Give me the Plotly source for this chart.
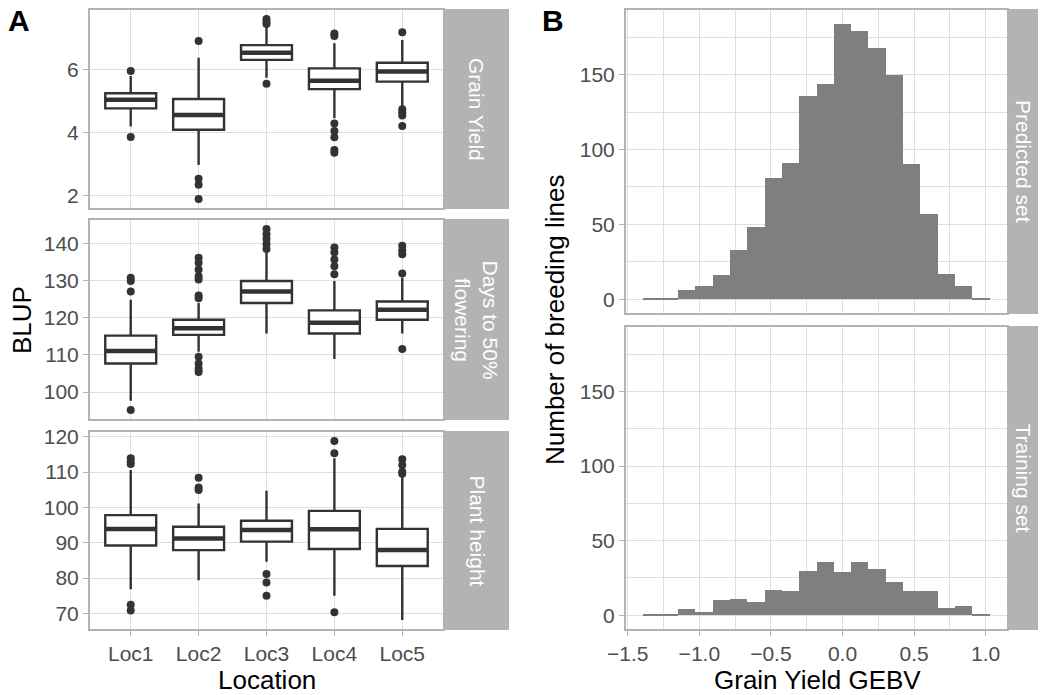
import plotly.graph_objects as go

# ---------------- data: panel A (BLUP box-plot statistics) ----------------
locations = ["Loc1", "Loc2", "Loc3", "Loc4", "Loc5"]

gy_q1 = [4.78, 4.10, 6.32, 5.39, 5.63]
gy_median = [5.05, 4.57, 6.55, 5.66, 5.95]
gy_q3 = [5.26, 5.08, 6.79, 6.05, 6.23]
gy_lower = [4.20, 2.98, 5.75, 4.47, 4.84]
gy_upper = [5.81, 6.39, 7.37, 6.85, 6.95]
gy_outliers = [
    [5.97, 3.87],
    [6.92, 2.54, 2.35, 1.90],
    [7.62, 7.53, 7.46, 5.56],
    [7.16, 7.08, 4.30, 4.06, 3.86, 3.46, 3.37],
    [7.20, 4.75, 4.65, 4.55, 4.22],
]

df_q1 = [107.7, 115.4, 124.0, 115.8, 119.5]
df_median = [111.1, 117.2, 127.1, 118.7, 122.2]
df_q3 = [115.2, 119.5, 129.9, 122.0, 124.4]
df_lower = [97.7, 110.9, 115.8, 108.9, 115.8]
df_upper = [124.9, 124.0, 137.6, 129.9, 130.8]
df_outliers = [
    [130.8, 129.9, 127.1, 95.2],
    [126.0, 125.3, 130.3, 131.2, 133.0, 134.8, 136.2, 109.5, 107.7, 106.3, 105.4],
    [143.9, 142.5, 141.2, 139.8, 138.5],
    [138.9, 137.6, 135.7, 133.9, 131.7],
    [131.9, 139.4, 138.1, 137.1, 111.6],
]

ph_q1 = [89.2, 87.9, 90.3, 88.2, 83.4]
ph_median = [93.9, 91.2, 93.6, 93.8, 87.9]
ph_q3 = [97.8, 94.5, 96.2, 99.0, 93.9]
ph_lower = [76.8, 79.4, 84.6, 75.0, 68.1]
ph_upper = [110.6, 101.1, 104.7, 113.9, 108.7]
ph_outliers = [
    [113.9, 113.0, 112.3, 72.4, 70.8],
    [108.4, 105.6, 104.9],
    [81.1, 78.7, 75.0],
    [118.8, 115.3, 70.3],
    [113.6, 112.0, 110.1, 109.5],
]

traits = ["Grain Yield", "Days to 50%<br>flowering", "Plant height"]

# ---------------- data: panel B (histogram of GEBV) ----------------
gebv_bin_centres = [-1.331, -1.210, -1.089, -0.968, -0.847, -0.726, -0.605, -0.484,
                    -0.363, -0.242, -0.121, 0.000, 0.121, 0.242, 0.363, 0.484,
                    0.605, 0.726, 0.847, 0.968]
gebv_bin_width = 0.121
predicted_counts = [1, 1, 6, 9, 16, 33, 48, 81, 91, 136, 144, 184, 179, 168, 150, 90, 57, 17, 9, 1]
training_counts = [1, 1, 4, 2, 10, 11, 9, 17, 16, 30, 36, 29, 36, 31, 22, 16, 16, 5, 6, 1]
sets = ["Predicted set", "Training set"]

x_ticks_b = [-1.5, -1.0, -0.5, 0.0, 0.5, 1.0]
x_ticktext_b = ["\u22121.5", "\u22121.0", "\u22120.5", "0.0", "0.5", "1.0"]
y_ticks_b = [0, 50, 100, 150]

# ---------------- style ----------------
W, H = 1048, 695
FONT = "Liberation Sans, Arial, Helvetica, sans-serif"
BOX_LINE = "#333333"
FRAME = "#b3b3b3"
GRID = "#dedede"
TICKTXT = "#4d4d4d"
BAR = "#7f7f7f"
BOX_W = 0.75


def px_x(p):
    return p / W


def px_y(p):
    return 1 - p / H


def expand(lo, hi, frac=0.05):
    s = hi - lo
    return [lo - frac * s, hi + frac * s]


fig = go.Figure()

# panel A geometry (pixels)
ax_left, ax_right = 90, 443
a_rows = [(10, 208), (220, 419), (432, 629)]
bx_left, bx_right = 626, 1007
b_rows = [(10, 313), (327, 629)]

a_data = [
    (gy_q1, gy_median, gy_q3, gy_lower, gy_upper, gy_outliers, [2, 4, 6]),
    (df_q1, df_median, df_q3, df_lower, df_upper, df_outliers, [100, 110, 120, 130, 140]),
    (ph_q1, ph_median, ph_q3, ph_lower, ph_upper, ph_outliers, [70, 80, 90, 100, 110, 120]),
]

axis_common = dict(
    automargin=False,
    showline=True, mirror=True, linecolor=FRAME, linewidth=2,
    showgrid=True, gridcolor=GRID, gridwidth=1, zeroline=False,
    ticks="outside", ticklen=5, tickcolor=FRAME, tickwidth=1,
    tickfont=dict(size=21, color=TICKTXT, family=FONT),
)

layout_axes = {}
for k, (q1, med, q3, lo, hi, outs, yt) in enumerate(a_data):
    n = k + 1
    xa = "x" if n == 1 else f"x{n}"
    ya = "y" if n == 1 else f"y{n}"
    xs = list(range(len(locations)))
    fig.add_trace(go.Box(
        x=xs, q1=q1, median=med, q3=q3, lowerfence=lo, upperfence=hi,
        width=BOX_W, whiskerwidth=0, boxpoints=False,
        fillcolor="white", line=dict(color=BOX_LINE, width=2.4),
        xaxis=xa, yaxis=ya, showlegend=False, hoverinfo="skip",
    ))
    mx, my = [], []
    for i, m in enumerate(med):
        mx += [i - BOX_W / 2, i + BOX_W / 2, None]
        my += [m, m, None]
    fig.add_trace(go.Scatter(x=mx, y=my, mode="lines", line=dict(color=BOX_LINE, width=4.5),
                             xaxis=xa, yaxis=ya, showlegend=False, hoverinfo="skip"))
    ox, oy = [], []
    for i, vals in enumerate(outs):
        ox += [i] * len(vals)
        oy += vals
    fig.add_trace(go.Scatter(x=ox, y=oy, mode="markers",
                             marker=dict(color=BOX_LINE, size=8),
                             xaxis=xa, yaxis=ya, showlegend=False, hoverinfo="skip"))
    all_vals = lo + hi + oy
    top, bot = a_rows[k]
    last = (k == len(a_data) - 1)
    layout_axes["xaxis" if n == 1 else f"xaxis{n}"] = dict(
        axis_common, domain=[px_x(ax_left), px_x(ax_right)], anchor=ya,
        range=[-0.6, len(locations) - 0.4], tickvals=xs, ticktext=locations,
        showticklabels=last, ticks="outside" if last else "",
    )
    layout_axes["yaxis" if n == 1 else f"yaxis{n}"] = dict(
        axis_common, domain=[px_y(bot), px_y(top)], anchor=xa,
        range=expand(min(all_vals), max(all_vals)), tickvals=yt,
    )

# panel B
for k, counts in enumerate([predicted_counts, training_counts]):
    n = 4 + k
    xa, ya = f"x{n}", f"y{n}"
    fig.add_trace(go.Bar(
        x=gebv_bin_centres, y=counts, width=gebv_bin_width,
        marker=dict(color=BAR, line=dict(width=0)),
        xaxis=xa, yaxis=ya, showlegend=False, hoverinfo="skip",
    ))
    top, bot = b_rows[k]
    last = (k == 1)
    lo_edge = gebv_bin_centres[0] - gebv_bin_width / 2
    hi_edge = gebv_bin_centres[-1] + gebv_bin_width / 2
    maxc = max(predicted_counts + training_counts)
    layout_axes[f"xaxis{n}"] = dict(
        axis_common, domain=[px_x(bx_left), px_x(bx_right)], anchor=ya,
        range=expand(lo_edge, hi_edge), tickvals=x_ticks_b, ticktext=x_ticktext_b,
        showticklabels=last, ticks="outside" if last else "",
        minor=dict(dtick=0.25, tick0=0, showgrid=True, gridcolor=GRID, gridwidth=0.8, ticks=""),
    )
    layout_axes[f"yaxis{n}"] = dict(
        axis_common, domain=[px_y(bot), px_y(top)], anchor=xa,
        range=expand(0, maxc), tickvals=y_ticks_b,
        minor=dict(dtick=25, tick0=0, showgrid=True, gridcolor=GRID, gridwidth=0.8, ticks=""),
    )

# strips
shapes = []
annotations = []


def ann(text, x, y, size, color="black", angle=0):
    return dict(text=text, xref="paper", yref="paper", x=px_x(x), y=px_y(y),
                xanchor="center", yanchor="middle", showarrow=False, textangle=angle,
                font=dict(size=size, color=color, family=FONT))


for k, (top, bot) in enumerate(a_rows):
    shapes.append(dict(type="rect", xref="paper", yref="paper",
                       x0=px_x(ax_right + 1), x1=px_x(509), y0=px_y(bot + 1), y1=px_y(top - 1),
                       fillcolor=FRAME, line=dict(width=0), layer="below"))
    annotations.append(ann(traits[k], (ax_right + 509) / 2 + 1, (top + bot) / 2, 21, "white", 90))
for k, (top, bot) in enumerate(b_rows):
    shapes.append(dict(type="rect", xref="paper", yref="paper",
                       x0=px_x(bx_right + 1), x1=px_x(1038), y0=px_y(bot + 1), y1=px_y(top - 1),
                       fillcolor=FRAME, line=dict(width=0), layer="below"))
    annotations.append(ann(sets[k], (bx_right + 1038) / 2 + 1, (top + bot) / 2, 21, "white", 90))

# axis titles & panel labels
annotations += [
    ann("BLUP", 22, 320, 26, angle=-90),
    ann("Location", 267, 680, 26),
    ann("Number of breeding lines", 555, 320, 26, angle=-90),
    ann("Grain Yield GEBV", 817, 680, 26),
    ann("<b>A</b>", 19, 20, 30),
    ann("<b>B</b>", 553, 20, 30),
]

fig.update_layout(
    template="none",
    width=W, height=H,
    margin=dict(l=0, r=0, t=0, b=0, pad=0, autoexpand=False),
    paper_bgcolor="white", plot_bgcolor="white",
    showlegend=False, bargap=0,
    font=dict(family=FONT),
    shapes=shapes, annotations=annotations,
    **layout_axes,
)

fig.write_html("out.html", config={"displayModeBar": False},
               post_script="document.body.style.margin='0';document.body.style.overflow='hidden';")
